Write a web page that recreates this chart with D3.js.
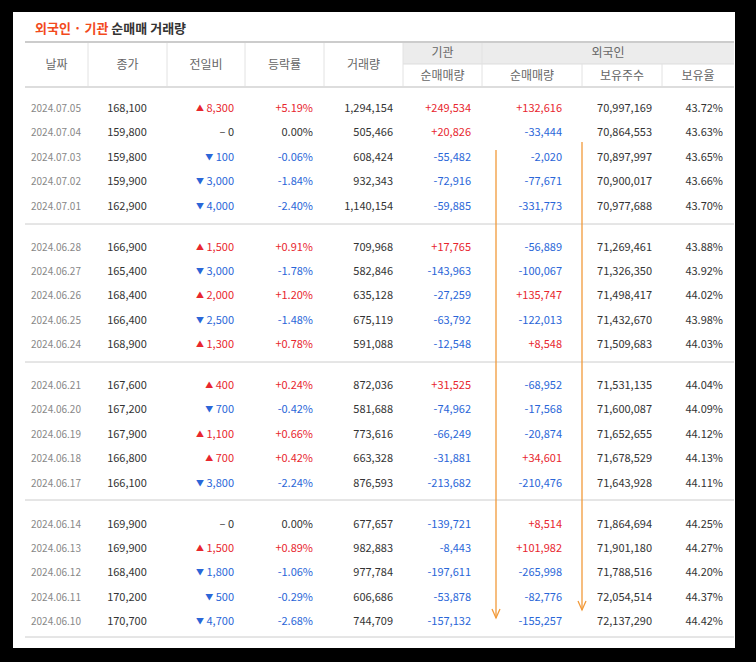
<!DOCTYPE html><html><head><meta charset="utf-8">
<script src="https://cdn.jsdelivr.net/npm/d3@7"></script>
<style>body{margin:0;background:#000}</style></head><body><svg id="c" width="756" height="662"></svg>
<script>
const dates=["2024.07.05","2024.07.04","2024.07.03","2024.07.02","2024.07.01","2024.06.28","2024.06.27","2024.06.26","2024.06.25","2024.06.24","2024.06.21","2024.06.20","2024.06.19","2024.06.18","2024.06.17","2024.06.14","2024.06.13","2024.06.12","2024.06.11","2024.06.10"];
const closes=[168100,159800,159800,159900,162900,166900,165400,168400,166400,168900,167600,167200,167900,166800,166100,169900,169900,168400,170200,170700];
const changes=[8300,0,-100,-3000,-4000,1500,-3000,2000,-2500,1300,400,-700,1100,700,-3800,0,1500,-1800,-500,-4700];
const rates=[5.19,0,-0.06,-1.84,-2.40,0.91,-1.78,1.20,-1.48,0.78,0.24,-0.42,0.66,0.42,-2.24,0,0.89,-1.06,-0.29,-2.68];
const volumes=[1294154,505466,608424,932343,1140154,709968,582846,635128,675119,591088,872036,581688,773616,663328,876593,677657,982883,977784,606686,744709];
const instNet=[249534,20826,-55482,-72916,-59885,17765,-143963,-27259,-63792,-12548,31525,-74962,-66249,-31881,-213682,-139721,-8443,-197611,-53878,-157132];
const forNet=[132616,-33444,-2020,-77671,-331773,-56889,-100067,135747,-122013,8548,-68952,-17568,-20874,34601,-210476,8514,101982,-265998,-82776,-155257];
const forHold=[70997169,70864553,70897997,70900017,70977688,71269461,71326350,71498417,71432670,71509683,71531135,71600087,71652655,71678529,71643928,71864694,71901180,71788516,72054514,72137290];
const forRatio=[43.72,43.63,43.65,43.66,43.70,43.88,43.92,44.02,43.98,44.03,44.04,44.09,44.12,44.13,44.11,44.25,44.27,44.20,44.37,44.42];
const heads=["날짜","종가","전일비","등락률","거래량"];
const subHeads=["순매매량","순매매량","보유주수","보유율"];

const svg=d3.select("#c"),F="'Noto Sans CJK KR','Noto Sans',sans-serif";
const RED="#e8262e",BLUE="#2a66d8",DARK="#333",GREY="#888";
svg.append("rect").attr("x",13).attr("y",12).attr("width",722).attr("height",636).attr("fill","#fff");
const t=svg.append("text").attr("x",35).attr("y",33).attr("font-family",F).attr("font-size",13).attr("font-weight","bold");
t.append("tspan").attr("fill","#f24a1c").text("외국인 · 기관 ");
t.append("tspan").attr("fill","#333").text("순매매 거래량");
const bx=[25,88,167,245,324,403,482,582,662,734];
const L=25,R=734;
svg.append("rect").attr("x",403).attr("y",42).attr("width",R-403).attr("height",22).attr("fill","#ececec");
svg.append("line").attr("x1",L).attr("x2",R).attr("y1",42).attr("y2",42).attr("stroke","#ccc").attr("stroke-width",2);
svg.append("line").attr("x1",403).attr("x2",R).attr("y1",64).attr("y2",64).attr("stroke","#ddd");
svg.append("line").attr("x1",L).attr("x2",R).attr("y1",87).attr("y2",87).attr("stroke","#ddd").attr("stroke-width",2);
bx.slice(1,-1).forEach(x=>{const y1=(x>=582)?64:43;svg.append("line").attr("x1",x).attr("x2",x).attr("y1",y1).attr("y2",86).attr("stroke","#e2e2e2");});
const ht=(x,y,s)=>svg.append("text").attr("x",x).attr("y",y).attr("text-anchor","middle").attr("font-family",F).attr("font-size",12).attr("fill","#666").text(s);
heads.forEach((h,i)=>ht((bx[i]+bx[i+1])/2,69,h));
ht((403+482)/2,57,"기관");ht((482+R)/2,57,"외국인");
subHeads.forEach((h,i)=>ht((bx[i+5]+bx[i+6])/2,80,h));
const ry=i=>112+i*24.4+Math.floor(i/5)*16.5;
[224,362,500,637].forEach(v=>svg.append("line").attr("x1",L).attr("x2",R).attr("y1",v).attr("y2",v).attr("stroke","#ccc"));
const fmt=v=>d3.format(",")(v).replace("−","-");
const col=v=>v>0?RED:v<0?BLUE:DARK;
const txt=(x,yy,s,c,a,sz)=>svg.append("text").attr("x",x).attr("y",yy).attr("text-anchor",a||"end").attr("font-family",F).attr("font-size",sz||11).attr("fill",c).text(s);
dates.forEach((d,i)=>{const yy=ry(i);
 txt(31,yy,d,GREY,"start",10);
 txt(127,yy,fmt(closes[i]),DARK,"middle");
 const c=changes[i];
 const tt=txt(234,yy,"",col(c));
 tt.append("tspan").attr("font-size",c===0?11:8).attr("dy",c===0?0:-1).text(c>0?"▲":c<0?"▼":"–");
 tt.append("tspan").attr("dy",c===0?0:1).text(" "+fmt(Math.abs(c)));
 const r=rates[i];
 txt(313,yy,(r>0?"+":"")+r.toFixed(2)+"%",col(r));
 txt(393,yy,fmt(volumes[i]),DARK);
 txt(471,yy,(instNet[i]>0?"+":"")+fmt(instNet[i]),col(instNet[i]));
 txt(562,yy,(forNet[i]>0?"+":"")+fmt(forNet[i]),col(forNet[i]));
 txt(652,yy,fmt(forHold[i]),DARK);
 txt(723,yy,forRatio[i].toFixed(2)+"%",DARK);
});
[[496,150,618],[582,142,610]].forEach(([x,a,b])=>{
 svg.append("line").attr("x1",x).attr("x2",x).attr("y1",a).attr("y2",b).attr("stroke","#f29a3a").attr("stroke-width",1.3);
 svg.append("path").attr("d",`M${x-4},${b-9}L${x},${b}L${x+4},${b-9}`).attr("fill","none").attr("stroke","#f29a3a").attr("stroke-width",1.3);
});
</script></body></html>
